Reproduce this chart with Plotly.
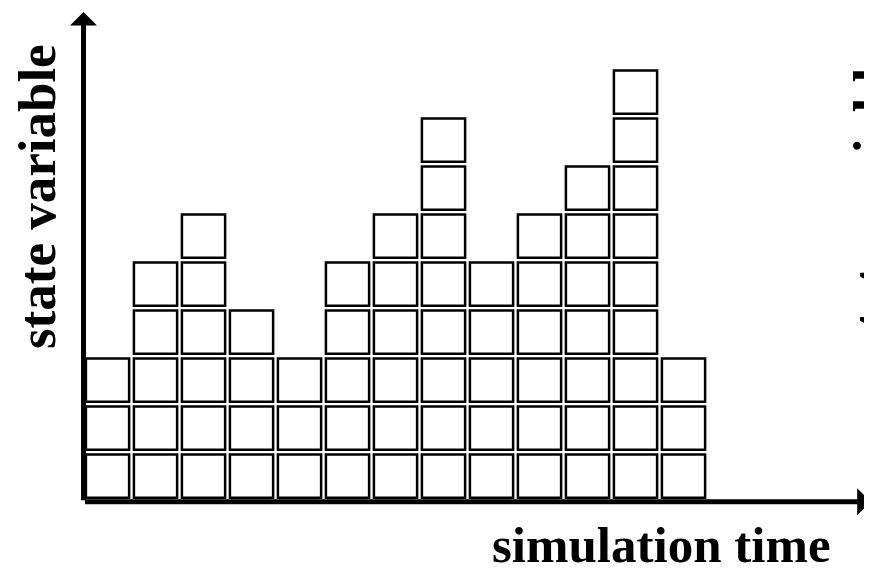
import plotly.graph_objects as go

# number of stacked cells per time step
steps = list(range(13))
heights = [3, 5, 6, 4, 3, 5, 6, 8, 5, 6, 7, 9, 3]

x_label = "simulation time"
y_label = "state variable"

# one bar per cell, stacked on its base
cell_x, cell_base = [], []
for s, h in zip(steps, heights):
    for k in range(h):
        cell_x.append(s)
        cell_base.append(k + 0.05)

fig = go.Figure(go.Bar(
    x=cell_x,
    y=[0.9] * len(cell_x),
    base=cell_base,
    width=0.9,
    marker={'color': 'white', 'line': {'color': 'black', 'width': 2.5}},
    hoverinfo='skip',
))

axis_style = dict(showgrid=False, zeroline=False, showticklabels=False,
                  showline=False, ticks='', fixedrange=True)

arrow_style = dict(xref='x', yref='y', axref='x', ayref='y', text='',
                   showarrow=True, arrowhead=1, arrowsize=0.9,
                   arrowwidth=5, arrowcolor='black', standoff=0)

font = {'family': 'Liberation Serif, Times New Roman, serif', 'color': 'black'}

fig.update_layout(
    width=864, height=565,
    margin=dict(l=70, r=0, t=0, b=68),
    paper_bgcolor='white',
    plot_bgcolor='white',
    showlegend=False,
    barmode='overlay',
    xaxis=dict(range=[-0.615, 15.927], **axis_style),
    yaxis=dict(range=[-0.1, 10.254], **axis_style),
    annotations=[
        # axes drawn as arrows
        dict(x=15.9, y=-0.03, ax=-0.5, ay=-0.03, **arrow_style),
        dict(x=-0.5, y=10.17, ax=-0.5, ay=-0.03, **arrow_style),
        dict(text=f"<b>{x_label}</b>", x=0.7355, y=-0.0805, xref='paper', yref='paper',
             showarrow=False, font=dict(size=51, **font),
             xanchor='center', yanchor='middle'),
        dict(text=f"<b>{y_label}</b>", x=-0.0516, y=0.6197, xref='paper', yref='paper',
             showarrow=False, font=dict(size=53, **font), textangle=-90,
             xanchor='center', yanchor='middle'),
        # neighbouring panel's label, cut off at the right edge
        dict(text=f"<b>{y_label}</b>", x=1.0, y=0.6197, xref='paper', yref='paper',
             showarrow=False, font=dict(size=53, **font), textangle=-90,
             xanchor='center', yanchor='middle'),
    ],
)

fig.write_html("out.html", config={'displayModeBar': False})
